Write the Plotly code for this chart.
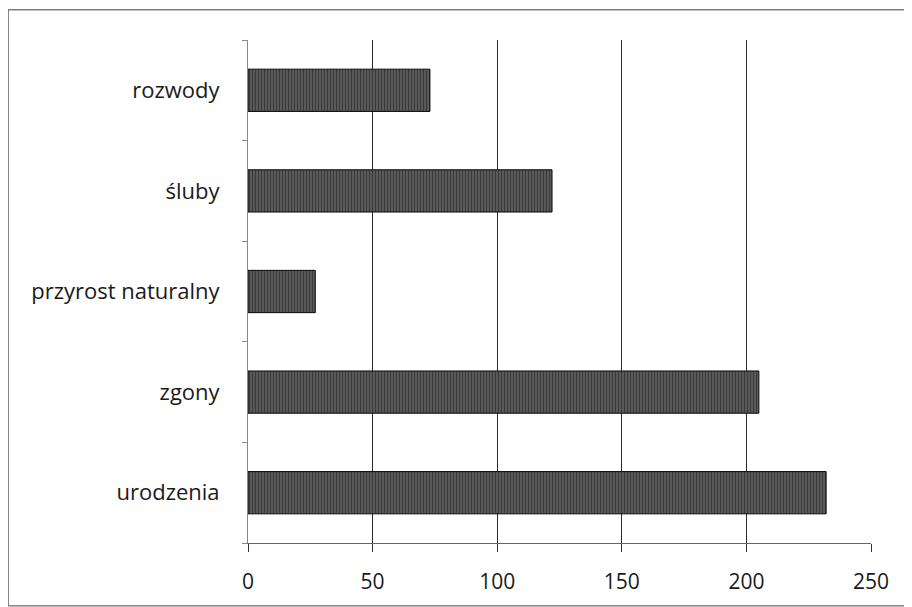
import plotly.graph_objects as go

categories = ["urodzenia", "zgony", "przyrost naturalny", "śluby", "rozwody"]
values = [232, 205, 27, 122, 73]
x_ticks = [0, 50, 100, 150, 200, 250]

fig = go.Figure()
fig.add_trace(go.Bar(
    y=categories, x=values, orientation="h", width=0.42,
    marker=dict(
        color="#444444",
        line=dict(color="#0a0a0a", width=1),
        pattern=dict(shape="|", fgcolor="#050505", bgcolor="#6e6e6e", size=3, solidity=0.6),
    ),
    hoverinfo="skip",
))

# plot area in figure pixels: x 240..863, y 32..535
fig.update_layout(
    width=912, height=607,
    margin=dict(l=240, r=49, t=32, b=72),
    paper_bgcolor="white", plot_bgcolor="white",
    showlegend=False,
    font=dict(family="Open Sans, Liberation Sans, sans-serif", size=21, color="#1a1a1a"),
    shapes=[dict(type="rect", xref="paper", yref="paper",
                 x0=-0.385, x1=1.056, y0=-0.125, y1=1.060,
                 line=dict(color="#444", width=1), layer="below")],
)
fig.update_xaxes(
    range=[0, 250], tickvals=x_ticks, ticktext=[str(v) for v in x_ticks],
    showgrid=True, gridcolor="#2a2a2a", gridwidth=1,
    zeroline=False, showline=True, linecolor="#666", linewidth=1,
    ticks="outside", ticklen=8, tickcolor="#333",
    ticklabelstandoff=12, tickfont=dict(size=21),
)
fig.update_yaxes(
    categoryorder="array", categoryarray=categories,
    showgrid=False, showline=True, linecolor="#888", linewidth=1,
    ticks="outside", tickson="boundaries", ticklen=5, tickcolor="#888",
    ticklabelstandoff=23, tickfont=dict(size=22),
)

fig.write_html("out.html")
